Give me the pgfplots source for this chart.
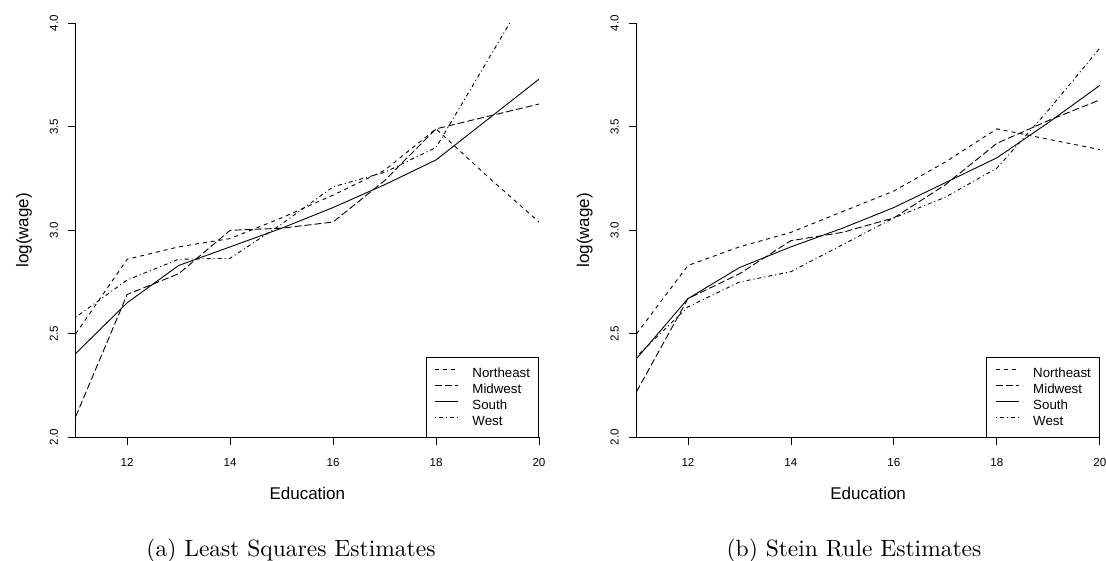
\documentclass[border=0pt]{standalone}
\usepackage{fontspec}
\usepackage{pgfplots}
\pgfplotsset{compat=1.18}
\newfontfamily\rsans{Liberation Sans}
\newfontfamily\capfont{lmroman10-regular}[Extension=.otf]
\newcommand\tickfont{\fontsize{11.6}{14}\rsans}
\newcommand\labfont{\fontsize{17}{20}\rsans}
\newcommand\legfont{\fontsize{13.3}{16}\rsans}
\pgfplotsset{
  rplot/.style={
    scale only axis, width=463.3pt, height=414pt,
    xmin=11, xmax=20, ymin=2, ymax=4,
    axis x line*=bottom, axis y line*=left,
    x axis line style={-}, y axis line style={-},
    axis line style={black, line width=0.8pt},
    tick style={black, line width=0.8pt},
    tick align=outside, major tick length=8pt,
    xtick={12,14,16,18,20}, xticklabels={12,14,16,18,20},
    ytick={2,2.5,3,3.5,4}, yticklabels={2.0,2.5,3.0,3.5,4.0},
    xticklabel style={font=\tickfont, inner sep=0pt, text height=8.3pt, text depth=0pt, anchor=north},
    yticklabel style={font=\tickfont, inner sep=0pt, text height=8.3pt, text depth=0pt, rotate=90, anchor=south},
    xticklabel shift=13pt, yticklabel shift=9.7pt,
    xlabel={Education}, ylabel={log(wage)},
    xlabel style={font=\labfont, at={(axis description cs:0.5,-0.1514)}, anchor=base},
    ylabel style={font=\labfont, at={(axis description cs:-0.1116,0.5)}, anchor=center},
    legend style={at={(rel axis cs:1,0)}, anchor=south east, draw=black, line width=0.8pt,
      fill=white, font=\legfont, inner xsep=8.5pt, inner ysep=8pt, row sep=0pt, column sep=14pt,
      nodes={inner xsep=0pt, inner ysep=3.25pt, text height=9.5pt, text depth=0pt}},
    legend cell align=left,
    legend image code/.code={\draw[#1] (0pt,3.5pt) -- (23pt,3.5pt);},
  },
  ne/.style={black, line width=0.9pt, dash pattern=on 4pt off 4pt},
  mw/.style={black, line width=0.9pt, dash pattern=on 7pt off 3pt},
  so/.style={black, line width=0.9pt},
  we/.style={black, line width=0.9pt, dash pattern=on 1pt off 3pt on 4pt off 3pt},
}
\begin{document}
\begin{tikzpicture}
\path[use as bounding box] (0pt,0pt) rectangle (1106pt,560pt);
\begin{axis}[rplot, at={(75.7pt,122.7pt)}, anchor=south west]
\addplot[ne] coordinates {(11,2.50) (12,2.86) (13,2.92) (14,2.96) (15,3.06) (16,3.17) (17,3.29) (18,3.49) (19,3.26) (20,3.04)};
\addplot[mw] coordinates {(11,2.10) (12,2.69) (13,2.79) (14,3.00) (15,3.01) (16,3.04) (17,3.24) (18,3.49) (19,3.55) (20,3.61)};
\addplot[so] coordinates {(11,2.405) (12,2.65) (13,2.83) (14,2.92) (15,3.01) (16,3.11) (17,3.22) (18,3.34) (19,3.535) (20,3.73)};
\addplot[we] coordinates {(11,2.58) (12,2.76) (13,2.86) (14,2.865) (15,3.03) (16,3.21) (17,3.28) (18,3.40) (19,3.82) (20,4.24)};
\legend{Northeast,Midwest,South,West}
\end{axis}
\begin{axis}[rplot, at={(636.5pt,122.7pt)}, anchor=south west]
\addplot[ne] coordinates {(11,2.50) (12,2.83) (13,2.92) (14,2.99) (15,3.09) (16,3.19) (17,3.33) (18,3.49) (19,3.44) (20,3.39)};
\addplot[mw] coordinates {(11,2.22) (12,2.67) (13,2.79) (14,2.95) (15,2.99) (16,3.06) (17,3.22) (18,3.42) (19,3.53) (20,3.63)};
\addplot[so] coordinates {(11,2.38) (12,2.67) (13,2.82) (14,2.92) (15,3.01) (16,3.11) (17,3.23) (18,3.35) (19,3.52) (20,3.70)};
\addplot[we] coordinates {(11,2.39) (12,2.63) (13,2.75) (14,2.80) (15,2.93) (16,3.06) (17,3.16) (18,3.30) (19,3.58) (20,3.88)};
\legend{Northeast,Midwest,South,West}
\end{axis}
\node[anchor=base, font=\capfont\fontsize{23.5}{28}\selectfont, inner sep=0pt] at (291pt,3.3pt) {(a) Least Squares Estimates};
\node[anchor=base, font=\capfont\fontsize{23.5}{28}\selectfont, inner sep=0pt] at (854pt,3.3pt) {(b) Stein Rule Estimates};
\end{tikzpicture}
\end{document}
